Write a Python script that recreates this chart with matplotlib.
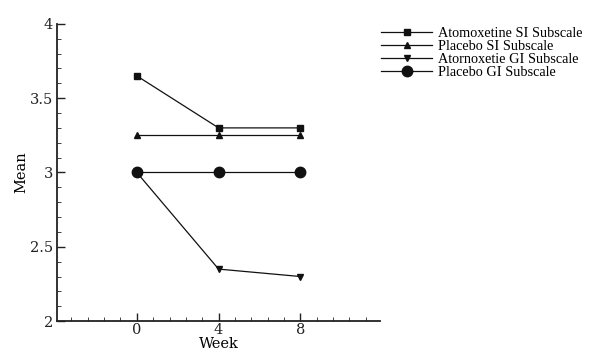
import matplotlib.pyplot as plt
from matplotlib.ticker import MultipleLocator

# DATA
# ================================================================================

weeks = [0, 4, 8]
atx_si = [3.65, 3.30, 3.30]
placebo_si = [3.25, 3.25, 3.25]
atx_gi = [3.00, 2.35, 2.30]
placebo_gi = [3.00, 3.00, 3.00]

labels = ['Atomoxetine SI Subscale', 'Placebo SI Subscale',
          'Atornoxetie GI Subscale', 'Placebo GI Subscale']

plt.rcParams['font.family'] = ['DejaVu Serif']

# PLOT
# ================================================================================

fig = plt.figure(figsize=(6.14, 3.56), dpi=100)
ax = fig.add_axes([0.093, 0.098, 0.526, 0.835])

line_kw = dict(color='#111111', linewidth=0.9)
ax.plot(weeks, atx_si, marker='s', markersize=5, label=labels[0], **line_kw)
ax.plot(weeks, placebo_si, marker='^', markersize=5, label=labels[1], **line_kw)
ax.plot(weeks, atx_gi, marker='v', markersize=5, label=labels[2], **line_kw)
ax.plot(weeks, placebo_gi, marker='o', markersize=7.5, label=labels[3], **line_kw)

ax.set_xlim(-3.9, 11.9)
ax.set_ylim(2, 4)
ax.set_xticks(weeks)
ax.xaxis.set_minor_locator(MultipleLocator(0.8))
ax.yaxis.set_minor_locator(MultipleLocator(0.1))
ax.set_yticks([2, 2.5, 3, 3.5, 4])
ax.set_yticklabels(['2', '2.5', '3', '3.5', '4'])

ax.tick_params(which='both', direction='in', labelsize=10.5, colors='#222222')
ax.tick_params(which='major', length=6, width=1)
ax.tick_params(which='minor', length=3, width=0.6)
ax.tick_params(axis='y', pad=3)
ax.tick_params(axis='x', pad=1)

# Turn off top/right axes
for side in ('top', 'right'):
    ax.spines[side].set_visible(False)
for side in ('left', 'bottom'):
    ax.spines[side].set_linewidth(1.3)
    ax.spines[side].set_color('#222222')

ax.set_xlabel('Week', fontsize=10.5, labelpad=0)
ax.set_ylabel('Mean', fontsize=10.5, labelpad=1)

ax.legend(loc='upper left', bbox_to_anchor=(1.0, 0.995), frameon=False,
          prop={'family': 'Liberation Serif', 'size': 10.3},
          handlelength=3.5, handletextpad=0.45,
          labelspacing=0.0, borderpad=0, borderaxespad=0.1)

fig.savefig('out.png', dpi=100)
